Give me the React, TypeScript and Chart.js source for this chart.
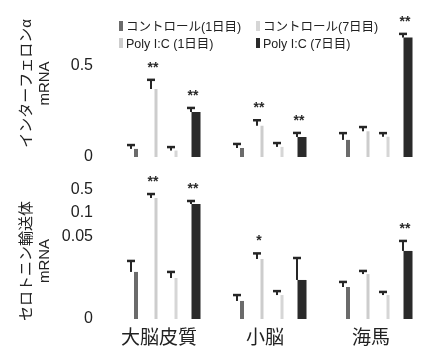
import React, { useEffect, useRef } from 'react';
import { Chart, registerables } from 'chart.js';

Chart.register(...registerables);

// ---- categories / series ----
const REGIONS = ['大脳皮質', '小脳', '海馬'];
const SERIES = ['コントロール(1日目)', 'Poly I:C (1日目)', 'コントロール(7日目)', 'Poly I:C (7日目)'];
const LEGEND_ORDER = [0, 2, 1, 3];

// ---- インターフェロンα mRNA (mean and error) ----
const IFN_CTRL_D1 = [0.044, 0.049, 0.093];
const IFN_CTRL_D1_ERR = [0.021, 0.022, 0.037];
const IFN_POLY_D1 = [0.37, 0.17, 0.14];
const IFN_POLY_D1_ERR = [0.05, 0.03, 0.023];
const IFN_CTRL_D7 = [0.035, 0.055, 0.11];
const IFN_CTRL_D7_ERR = [0.019, 0.021, 0.02];
const IFN_POLY_D7 = [0.245, 0.109, 0.65];
const IFN_POLY_D7_ERR = [0.022, 0.022, 0.02];
const IFN_SIG_POLY_D1 = ['**', '**', ''];
const IFN_SIG_POLY_D7 = ['**', '**', '**'];

// ---- セロトニン輸送体 mRNA (mean and error) ----
const SERT_CTRL_D1 = [0.0287, 0.011, 0.0195];
const SERT_CTRL_D1_ERR = [0.0067, 0.0036, 0.0031];
const SERT_POLY_D1 = [0.361, 0.0366, 0.0274];
const SERT_POLY_D1_ERR = [0.069, 0.0034, 0.0019];
const SERT_CTRL_D7 = [0.025, 0.0146, 0.0146];
const SERT_CTRL_D7_ERR = [0.0037, 0.0024, 0.0019];
const SERT_POLY_D7 = [0.257, 0.0238, 0.0415];
const SERT_POLY_D7_ERR = [0.052, 0.0134, 0.0061];
const SERT_SIG_POLY_D1 = ['**', '*', ''];
const SERT_SIG_POLY_D7 = ['**', '', '**'];

// ---- tick labels ----
const IFN_TICKS = [0, 0.5];
const SERT_TICKS = [0, 0.05, 0.1, 0.5];
const SERT_TICK_LABELS = ['0', '0.05', '0.1', '0.5'];

// ---- styles ----
const FONT = "'Liberation Sans', 'Noto Sans CJK JP', sans-serif";
const TEXT = '#222';
const COLORS = ['#6b6b6b', '#cdcdcd', '#d6d6d6', '#2a2a2a'];
const BAR_FRACTION = [0.2, 0.15, 0.15, 0.45];
// broken axis: height (px on the axis) of each SERT tick
const SERT_AXIS_POS = [0, 82, 106, 129];

const identity = (v: number) => v;
function sertToAxis(v: number) {
  for (let i = 1; i < SERT_TICKS.length; i++) {
    if (v <= SERT_TICKS[i] || i === SERT_TICKS.length - 1) {
      const t = (v - SERT_TICKS[i - 1]) / (SERT_TICKS[i] - SERT_TICKS[i - 1]);
      return SERT_AXIS_POS[i - 1] + t * (SERT_AXIS_POS[i] - SERT_AXIS_POS[i - 1]);
    }
  }
  return v;
}

function buildDatasets(
  means: number[][],
  errs: number[][],
  sigs: string[][],
  tf: (v: number) => number
) {
  return means.map((m, si) => ({
    label: SERIES[si],
    data: m.map(tf),
    errTop: m.map((v, i) => tf(v + errs[si][i])),
    marks: sigs[si],
    backgroundColor: COLORS[si],
    borderWidth: 0,
    categoryPercentage: 0.755,
    barPercentage: BAR_FRACTION[si],
  }));
}

const errorPlugin = {
  id: 'errorMarks',
  afterDatasetsDraw(chart: any, _args: any, opts: any) {
    const { ctx } = chart;
    const y = chart.scales.y;
    chart.data.datasets.forEach((ds: any, di: number) => {
      const meta = chart.getDatasetMeta(di);
      meta.data.forEach((bar: any, i: number) => {
        const top = y.getPixelForValue(ds.errTop[i]);
        const x = bar.x + opts.offset;
        ctx.save();
        ctx.strokeStyle = '#262626';
        ctx.lineWidth = 2;
        ctx.beginPath();
        ctx.moveTo(x, bar.y);
        ctx.lineTo(x, top);
        ctx.stroke();
        ctx.lineWidth = 2.5;
        ctx.beginPath();
        ctx.moveTo(x - 4, top);
        ctx.lineTo(x + 4, top);
        ctx.stroke();
        const mark = ds.marks ? ds.marks[i] : '';
        if (mark) {
          ctx.fillStyle = '#2a2a2a';
          ctx.font = `bold 14px ${FONT}`;
          ctx.textAlign = 'center';
          ctx.textBaseline = 'middle';
          ctx.fillText(mark, x + 2, top - 12);
        }
        ctx.restore();
      });
    });
  },
};

function makeConfig(bottom: boolean): any {
  const datasets = bottom
    ? buildDatasets(
        [SERT_CTRL_D1, SERT_POLY_D1, SERT_CTRL_D7, SERT_POLY_D7],
        [SERT_CTRL_D1_ERR, SERT_POLY_D1_ERR, SERT_CTRL_D7_ERR, SERT_POLY_D7_ERR],
        [[], SERT_SIG_POLY_D1, [], SERT_SIG_POLY_D7],
        sertToAxis
      )
    : buildDatasets(
        [IFN_CTRL_D1, IFN_POLY_D1, IFN_CTRL_D7, IFN_POLY_D7],
        [IFN_CTRL_D1_ERR, IFN_POLY_D1_ERR, IFN_CTRL_D7_ERR, IFN_POLY_D7_ERR],
        [[], IFN_SIG_POLY_D1, [], IFN_SIG_POLY_D7],
        identity
      );
  return {
    type: 'bar',
    data: { labels: REGIONS, datasets },
    plugins: [errorPlugin],
    options: {
      responsive: false,
      animation: false,
      layout: { padding: { top: bottom ? 14 : 10, bottom: bottom ? 0 : 10, left: 0, right: 2 } },
      plugins: {
        legend: { display: false },
        tooltip: { enabled: false },
        errorMarks: { offset: -5 },
      },
      scales: {
        x: {
          display: bottom,
          grid: { display: false, drawTicks: false },
          border: { display: false },
          ticks: { font: { family: FONT, size: 19 }, color: TEXT, padding: -7, labelOffset: -7, mirror: true },
          afterFit: (s: any) => {
            if (bottom) s.height = 12;
          },
        },
        y: {
          min: bottom ? -24 : 0,
          max: bottom ? 140 : 0.8,
          grid: { display: false, drawTicks: true, tickLength: 20 },
          border: { display: false },
          afterBuildTicks: (s: any) => {
            s.ticks = bottom
              ? SERT_TICKS.map((_v, i) => ({ value: SERT_AXIS_POS[i] }))
              : IFN_TICKS.map((v) => ({ value: v }));
          },
          ticks: {
            font: { family: FONT, size: 16 },
            color: TEXT,
            padding: 0,
            callback: (value: number) =>
              bottom ? SERT_TICK_LABELS[SERT_AXIS_POS.indexOf(value)] : String(value),
          },
          afterFit: (s: any) => {
            s.width = 113;
          },
          title: {
            display: true,
            text: bottom ? ['セロトニン輸送体', 'mRNA'] : ['インターフェロンα', 'mRNA'],
            font: { family: FONT, size: 15 },
            color: TEXT,
            padding: { top: 18, bottom: 0 },
          },
        },
      },
    },
  };
}

export default function App() {
  const topRef = useRef<HTMLCanvasElement>(null);
  const botRef = useRef<HTMLCanvasElement>(null);

  useEffect(() => {
    const c1 = new Chart(topRef.current as HTMLCanvasElement, makeConfig(false));
    const c2 = new Chart(botRef.current as HTMLCanvasElement, makeConfig(true));
    return () => {
      c1.destroy();
      c2.destroy();
    };
  }, []);

  return (
    <div style={{ position: 'absolute', left: 0, top: 0, width: 433, height: 355, background: '#fff', overflow: 'hidden' }}>
      <canvas ref={topRef} width={433} height={167} style={{ position: 'absolute', left: 0, top: 0 }} />
      <canvas ref={botRef} width={433} height={190} style={{ position: 'absolute', left: 0, top: 165 }} />
      <div
        style={{
          position: 'absolute',
          left: 119,
          top: 17,
          display: 'grid',
          gridTemplateColumns: '137px auto',
          gridAutoRows: '17px',
          fontFamily: FONT,
          fontSize: 12.5,
          color: TEXT,
        }}
      >
        {LEGEND_ORDER.map((si) => (
          <div key={si} style={{ display: 'flex', alignItems: 'center', whiteSpace: 'nowrap' }}>
            <span style={{ display: 'inline-block', width: 4, height: 10, background: COLORS[si], marginRight: 3 }} />
            <span>{SERIES[si]}</span>
          </div>
        ))}
      </div>
    </div>
  );
}
